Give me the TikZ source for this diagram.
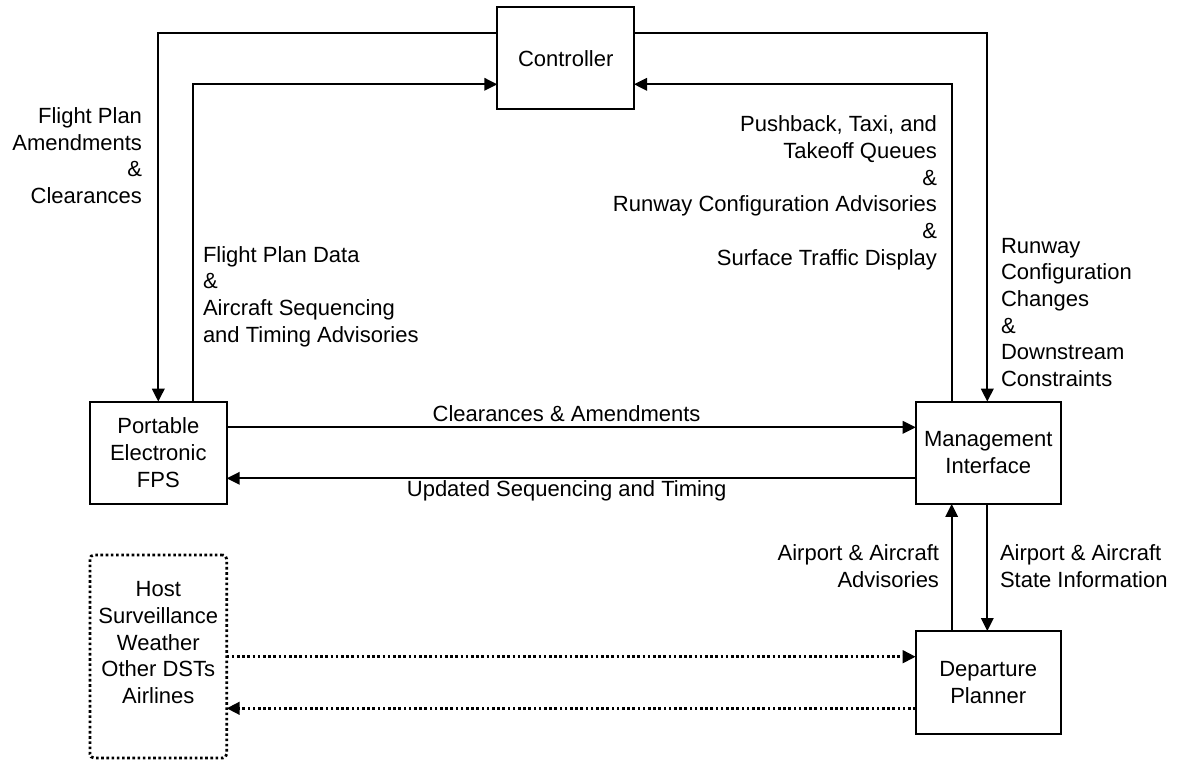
\documentclass[tikz,border=0pt]{standalone}
\usepackage{fontspec}
\setmainfont{Liberation Sans}
\usetikzlibrary{arrows.meta}
\begin{document}
\begin{tikzpicture}[x=1pt,y=-1pt,
  every node/.style={font=\fontsize{22}{26.7}\selectfont, inner sep=0pt, outer sep=0pt},
  blk/.style={draw, line width=2pt, align=center},
  dotline/.style={line width=2.8pt, dash pattern=on 2.6pt off 2.6pt},
  conn/.style={line width=1.9pt, -{Triangle[length=13pt,width=12.5pt]}},
  dconn/.style={dotline, -{Triangle[length=13pt,width=12.5pt]}}]
\useasboundingbox (0,0) rectangle (1179,761);

% boxes
\node[blk, minimum width=136.7pt, minimum height=101.7pt] (ctrl) at (565.7,58.2) {Controller};
\node[blk, minimum width=136.7pt, minimum height=102.3pt] (fps) at (158.3,452.8) {Portable\\Electronic\\FPS};
\node[blk, minimum width=145pt, minimum height=102.3pt] (mi) at (988.2,452.8) {Management\\Interface};
\node[blk, minimum width=145pt, minimum height=103pt] (dp) at (988.2,682.5) {Departure\\Planner};
\node[draw, dotline, rounded corners=4pt, minimum width=136.7pt, minimum height=203pt] (host) at (158.3,656.5) {};
\node[anchor=base, align=center] (hosttxt) at (158.3,703.5) {Host\\Surveillance\\Weather\\Other DSTs\\Airlines};

% routing points
\coordinate (tl) at (158.3,33.3);
\coordinate (tl2) at (192.7,84.3);
\coordinate (tr) at (987.3,33.3);
\coordinate (tr2) at (951.7,84.3);
\coordinate (h1) at (0,427.3);
\coordinate (h2) at (0,478.3);
\coordinate (d1) at (0,656.7);
\coordinate (d2) at (0,708.3);

% connectors
\draw[conn] (ctrl.west |- tl) -- (tl) -- (fps.north -| tl);
\draw[conn] (fps.north -| tl2) -- (tl2) -- (ctrl.west |- tl2);
\draw[conn] (ctrl.east |- tr) -- (tr) -- (mi.north -| tr);
\draw[conn] (mi.north -| tr2) -- (tr2) -- (ctrl.east |- tr2);
\draw[conn] (fps.east |- h1) -- (mi.west |- h1);
\draw[conn] (mi.west |- h2) -- (fps.east |- h2);
\draw[conn] (dp.north -| tr2) -- (mi.south -| tr2);
\draw[conn] (mi.south -| tr) -- (dp.north -| tr);
\draw[dconn] (host.east |- d1) -- (dp.west |- d1);
\draw[dconn] (dp.west |- d2) -- (host.east |- d2);

% labels (anchor = baseline of last line)
\node[anchor=base east, align=right] (l1) at (142,203.4) {Flight Plan\\Amendments\\\&\\Clearances};
\node[anchor=base west, align=left] (l2) at (203,342.1) {Flight Plan Data\\\&\\Aircraft Sequencing\\and Timing Advisories};
\node[anchor=base east, align=right] (l3) at (937,265.2) {Pushback, Taxi, and\\Takeoff Queues\\\&\\Runway Configuration Advisories\\\&\\Surface Traffic Display};
\node[anchor=base west, align=left] (l4) at (1001,386.5) {Runway\\Configuration\\Changes\\\&\\Downstream\\Constraints};
\node[anchor=base] (l5) at (566.6,421.7) {Clearances \& Amendments};
\node[anchor=base] (l6) at (566.7,496.7) {Updated Sequencing and Timing};
\node[anchor=base east, align=right] (l7) at (939,587.5) {Airport \& Aircraft\\Advisories};
\node[anchor=base west, align=left] (l8) at (1000,587.5) {Airport \& Aircraft\\State Information};
\end{tikzpicture}
\end{document}
